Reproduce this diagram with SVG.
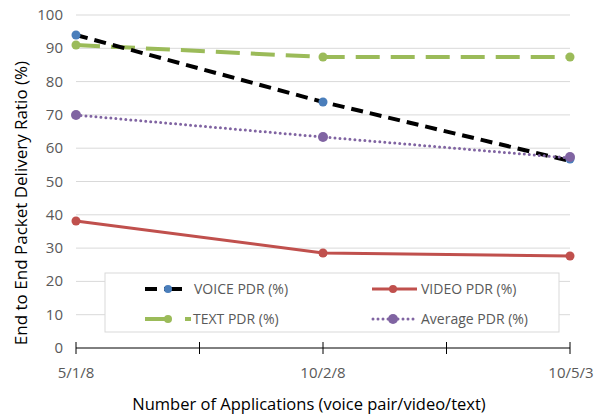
<svg xmlns="http://www.w3.org/2000/svg" width="601" height="418" viewBox="0 0 601 418">
<style>
  .grid { stroke:#d9d9d9; stroke-width:1; }
  .ylab { font-family:"Open Sans","Liberation Sans",sans-serif; font-size:15px; fill:#595959; text-anchor:end; }
  .xlab { font-family:"Open Sans","Liberation Sans",sans-serif; font-size:15px; fill:#595959; text-anchor:middle; }
  .title { font-family:"Open Sans","Liberation Sans",sans-serif; font-size:16.5px; fill:#000; text-anchor:middle; }
  .leg { font-family:"Open Sans","Liberation Sans",sans-serif; font-size:14px; fill:#595959; }
  .voice { fill:none; stroke:#000; stroke-width:4; stroke-dasharray:12 7; }
  .text { fill:none; stroke:#9bbb59; stroke-width:4; stroke-dasharray:24 11; }
  .video { fill:none; stroke:#c0504d; stroke-width:3; }
  .avg { fill:none; stroke:#8064a2; stroke-width:3; stroke-dasharray:0 5; stroke-linecap:round; }
</style>
<rect width="601" height="418" fill="#fff"/>
<g id="gridlines">
  <line class="grid" x1="76" y1="15" x2="570" y2="15"/>
  <line class="grid" x1="76" y1="48.3" x2="570" y2="48.3"/>
  <line class="grid" x1="76" y1="81.6" x2="570" y2="81.6"/>
  <line class="grid" x1="76" y1="114.9" x2="570" y2="114.9"/>
  <line class="grid" x1="76" y1="148.2" x2="570" y2="148.2"/>
  <line class="grid" x1="76" y1="181.5" x2="570" y2="181.5"/>
  <line class="grid" x1="76" y1="214.8" x2="570" y2="214.8"/>
  <line class="grid" x1="76" y1="248.1" x2="570" y2="248.1"/>
  <line class="grid" x1="76" y1="281.4" x2="570" y2="281.4"/>
  <line class="grid" x1="76" y1="314.7" x2="570" y2="314.7"/>
</g>
<g id="y-axis-labels">
  <text class="ylab" x="63" y="20">100</text>
  <text class="ylab" x="63" y="53.3">90</text>
  <text class="ylab" x="63" y="86.6">80</text>
  <text class="ylab" x="63" y="119.9">70</text>
  <text class="ylab" x="63" y="153.2">60</text>
  <text class="ylab" x="63" y="186.5">50</text>
  <text class="ylab" x="63" y="219.8">40</text>
  <text class="ylab" x="63" y="253.1">30</text>
  <text class="ylab" x="63" y="286.4">20</text>
  <text class="ylab" x="63" y="319.7">10</text>
  <text class="ylab" x="63" y="353">0</text>
</g>
<g id="x-axis">
  <line x1="76" y1="348" x2="570" y2="348" stroke="#000" stroke-width="1"/>
  <g stroke="#000" stroke-width="1">
    <line x1="76" y1="342" x2="76" y2="354"/>
    <line x1="199.5" y1="342" x2="199.5" y2="354"/>
    <line x1="323" y1="342" x2="323" y2="354"/>
    <line x1="446.5" y1="342" x2="446.5" y2="354"/>
    <line x1="570" y1="342" x2="570" y2="354"/>
  </g>
  <text class="xlab" x="76" y="378">5/1/8</text>
  <text class="xlab" x="323" y="378">10/2/8</text>
  <text class="xlab" x="571" y="378">10/5/3</text>
</g>
<g id="axis-titles">
  <text class="title" x="309" y="410">Number of Applications (voice pair/video/text)</text>
  <text class="title" transform="translate(27,203) rotate(-90)" style="font-size:17px">End to End Packet Delivery Ratio (%)</text>
</g>
<g id="series">
  <g id="text-pdr">
    <polyline class="text" points="76,45 323,57 570,57"/>
    <g fill="#9bbb59"><circle cx="76" cy="45" r="4.5"/><circle cx="323" cy="57" r="4.5"/><circle cx="570" cy="57" r="4.5"/></g>
  </g>
  <g id="voice-pdr">
    <polyline class="voice" points="76,35 323,102 570,161"/>
    <g fill="#4a7ebb"><circle cx="76" cy="35" r="4.5"/><circle cx="323" cy="102" r="4.5"/><circle cx="570" cy="159" r="4.5"/></g>
  </g>
  <g id="average-pdr">
    <polyline class="avg" points="76,115 323,137 570,158"/>
    <g fill="#8064a2"><circle cx="76" cy="115" r="5"/><circle cx="323" cy="137" r="5"/><circle cx="570" cy="157" r="5"/></g>
  </g>
  <g id="video-pdr">
    <polyline class="video" points="76,221 323,253 570,256"/>
    <g fill="#c0504d"><circle cx="76" cy="221" r="4.5"/><circle cx="323" cy="253" r="4.5"/><circle cx="570" cy="256" r="4.5"/></g>
  </g>
</g>
<g id="legend">
  <rect x="105" y="273" width="454" height="59" fill="#fff" stroke="#d9d9d9" stroke-width="1"/>
  <g id="legend-voice">
    <line x1="145" y1="289" x2="157" y2="289" stroke="#000" stroke-width="4"/>
    <line x1="164" y1="289" x2="182" y2="289" stroke="#000" stroke-width="4"/>
    <circle cx="168" cy="289" r="4" fill="#4a7ebb"/>
    <text class="leg" x="194" y="294">VOICE PDR (%)</text>
  </g>
  <g id="legend-video">
    <line x1="372" y1="289" x2="417" y2="289" stroke="#c0504d" stroke-width="3"/>
    <circle cx="393" cy="289" r="4" fill="#c0504d"/>
    <text class="leg" x="421" y="294">VIDEO PDR (%)</text>
  </g>
  <g id="legend-text">
    <line x1="145" y1="319" x2="170" y2="319" stroke="#9bbb59" stroke-width="4"/>
    <line x1="185" y1="319" x2="191" y2="319" stroke="#9bbb59" stroke-width="4"/>
    <circle cx="168" cy="319" r="4" fill="#9bbb59"/>
    <text class="leg" x="193" y="324">TEXT PDR (%)</text>
  </g>
  <g id="legend-average">
    <line x1="373" y1="319" x2="417" y2="319" stroke="#8064a2" stroke-width="3" stroke-dasharray="0 5" stroke-linecap="round"/>
    <circle cx="393" cy="319" r="5" fill="#8064a2"/>
    <text class="leg" x="421" y="324">Average PDR (%)</text>
  </g>
</g>
</svg>
